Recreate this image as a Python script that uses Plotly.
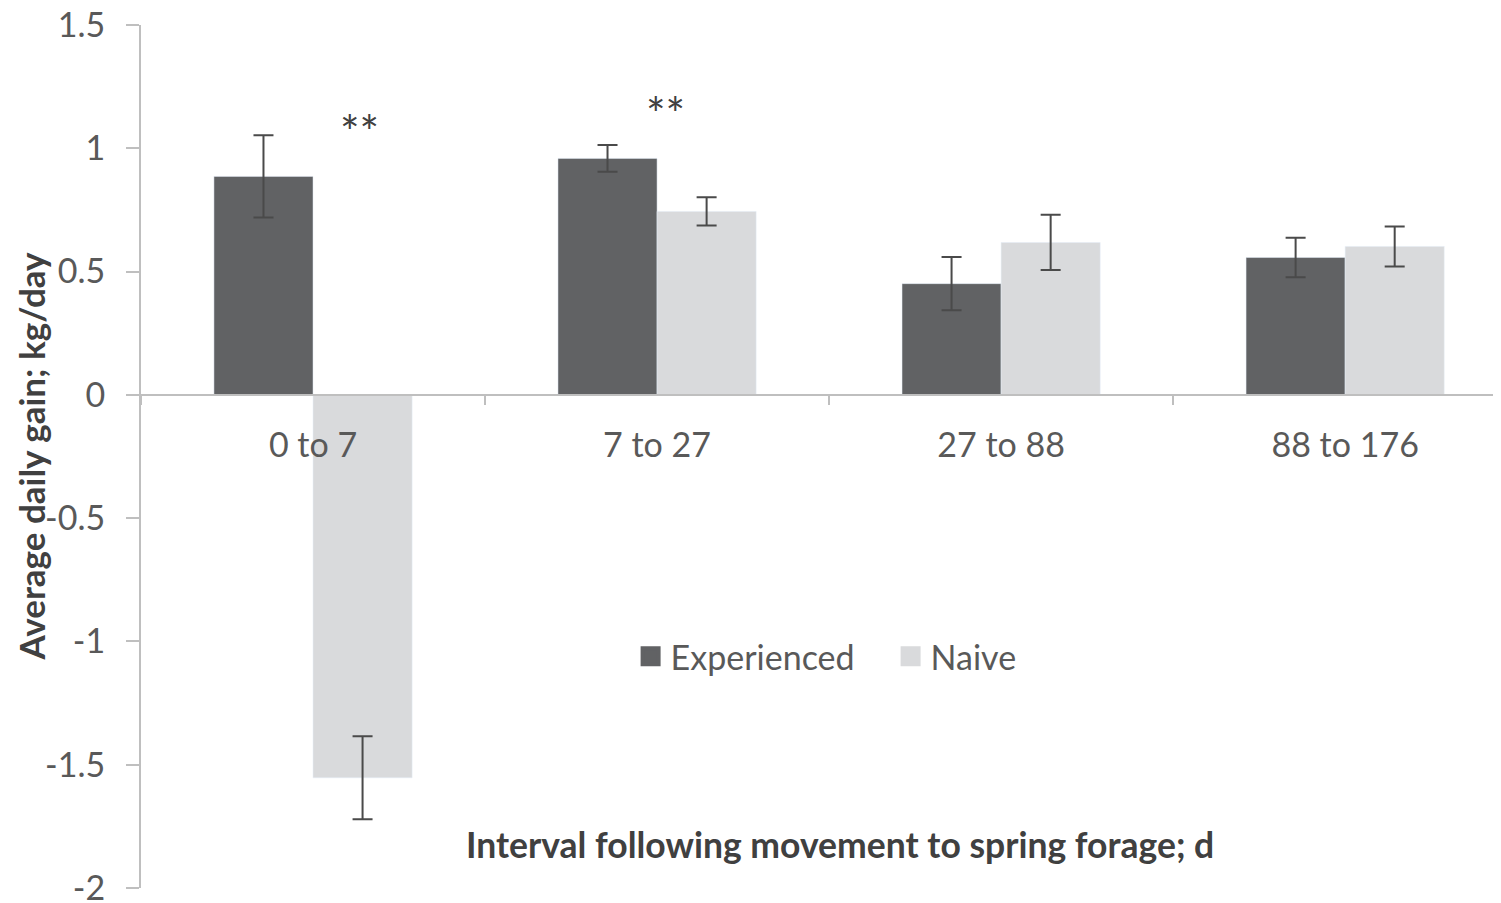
import plotly.graph_objects as go

categories = ["0 to 7", "7 to 27", "27 to 88", "88 to 176"]
experienced = [0.886, 0.959, 0.451, 0.557]
experienced_err = [0.167, 0.054, 0.108, 0.080]
naive = [-1.553, 0.744, 0.618, 0.602]
naive_err = [0.168, 0.057, 0.112, 0.081]
y_ticks = [1.5, 1, 0.5, 0, -0.5, -1, -1.5, -2]
y_tick_text = ["1.5", "1", "0.5", "0", "-0.5", "-1", "-1.5", "-2"]
sig_labels = ["**", "**"]
sig_y = [1.11, 1.18]
sig_cat = [0, 1]
sig_shift = [46, 8]

EXP_COLOR = "#616264"
NAI_COLOR = "#d9dadc"
ERR_COLOR = "#4a4a4a"
FONT = "Lato"
TXT = "#595959"
FS = 34

fig = go.Figure()
fig.add_trace(go.Bar(
    x=categories, y=experienced, name="Experienced", marker_color=EXP_COLOR,
    error_y=dict(type="data", array=experienced_err, color=ERR_COLOR, thickness=2, width=10),
    showlegend=False))
fig.add_trace(go.Bar(
    x=categories, y=naive, name="Naive", marker_color=NAI_COLOR,
    error_y=dict(type="data", array=naive_err, color=ERR_COLOR, thickness=2, width=10),
    showlegend=False))
for nm, col in [("Experienced", EXP_COLOR), ("Naive", NAI_COLOR)]:
    fig.add_trace(go.Scatter(
        x=[categories[0]], y=[None], mode="markers", name=nm,
        marker=dict(symbol="square", size=16, color=col, line=dict(color=col, width=4))))

y_min, y_max = -2, 1.5

fig.update_layout(
    width=1501, height=903,
    margin=dict(l=133, r=8, t=17, b=23),
    plot_bgcolor="white", paper_bgcolor="white",
    barmode="group", bargap=0.424, bargroupgap=0,
    font=dict(family=FONT, size=FS, color=TXT),
    showlegend=True,
    legend=dict(orientation="h", x=0.360, y=0.268, xanchor="left", yanchor="middle",
                font=dict(family=FONT, size=FS, color=TXT), itemsizing="trace",
                bgcolor="rgba(0,0,0,0)", itemwidth=30, entrywidth=215),
    xaxis=dict(
        type="category", range=[-0.5, 3.453], anchor="free",
        position=(0 - y_min) / (y_max - y_min),
        showline=True, linecolor="#bfbfbf", linewidth=2,
        ticks="outside", tickson="boundaries", ticklen=9, tickcolor="#bfbfbf", tickwidth=2,
        ticklabelstandoff=20, tickfont=dict(family=FONT, size=FS, color=TXT),
        showgrid=False, zeroline=False, automargin=False),
    yaxis=dict(
        range=[y_min, y_max], tickvals=y_ticks, ticktext=y_tick_text,
        showline=True, linecolor="#bfbfbf", linewidth=2,
        ticks="outside", ticklen=13, tickcolor="#bfbfbf", tickwidth=2,
        ticklabelstandoff=14, ticklabeloverflow="allow",
        tickfont=dict(family=FONT, size=FS, color=TXT),
        showgrid=False, zeroline=False, automargin=False),
)

for lab, c, yv, sh in zip(sig_labels, sig_cat, sig_y, sig_shift):
    fig.add_annotation(x=categories[c], y=yv, text=lab, showarrow=False, xshift=sh,
                       yanchor="middle", xanchor="center", yshift=-10,
                       font=dict(family=FONT, size=46, color="#404040"))

fig.add_annotation(text="<b>Interval following movement to spring forage; d</b>",
                   xref="paper", yref="paper", x=0.514, y=0.05, showarrow=False,
                   xanchor="center", yanchor="middle",
                   font=dict(family=FONT, size=35.5, color="#404040"))
fig.add_annotation(text="<b>Average daily gain; kg/day</b>", textangle=-90,
                   xref="paper", yref="paper", x=0, y=0.5, xshift=-111, showarrow=False,
                   xanchor="center", yanchor="middle",
                   font=dict(family=FONT, size=35, color="#404040"))

fig.write_html("out.html")
